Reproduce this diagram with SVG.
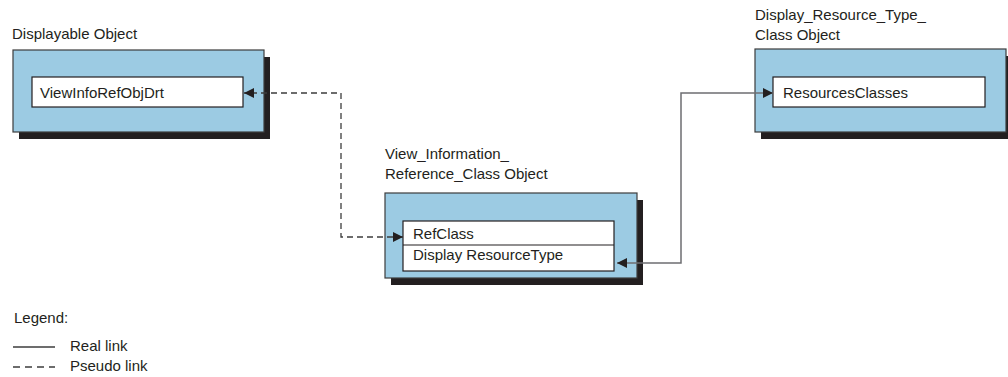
<svg xmlns="http://www.w3.org/2000/svg" width="1008" height="377" viewBox="0 0 1008 377">
<style>
text{font-family:"Liberation Sans",Arial,sans-serif;font-size:15px;fill:#231f20}
.shadow{fill:#231f20}
.outer{fill:#9ccbe3;stroke:#3c3c3c;stroke-width:1.2}
.inner{fill:#fff;stroke:#231f20;stroke-width:1.2}
.real{fill:none;stroke:#6d6e71;stroke-width:1.5}
.pseudo{fill:none;stroke:#3c3c3c;stroke-width:1.3;stroke-dasharray:6 4}
</style>
<defs>
<marker id="ah" viewBox="0 0 10 10" refX="10" refY="5" markerWidth="10" markerHeight="10" markerUnits="userSpaceOnUse" orient="auto-start-reverse">
<path d="M0,0 L10,5 L0,10 z" fill="#231f20"/>
</marker>
</defs>
<g id="displayable">
<text x="12" y="39">Displayable Object</text>
<rect class="shadow" x="19" y="57" width="251" height="82"/>
<rect class="outer" x="13" y="50" width="251" height="82"/>
<rect class="inner" x="32" y="77" width="211" height="30"/>
<text x="40" y="98">ViewInfoRefObjDrt</text>
</g>
<g id="viewinfo">
<text x="385" y="159">View_Information_</text>
<text x="385" y="179">Reference_Class Object</text>
<rect class="shadow" x="391" y="200" width="252" height="85"/>
<rect class="outer" x="385" y="193" width="252" height="85"/>
<rect class="inner" x="403" y="221" width="211" height="50"/>
<line x1="403" y1="245" x2="614" y2="245" stroke="#231f20" stroke-width="1.2"/>
<text x="413" y="239">RefClass</text>
<text x="413" y="260">Display ResourceType</text>
</g>
<g id="displayresource">
<text x="755" y="20">Display_Resource_Type_</text>
<text x="755" y="40">Class Object</text>
<rect class="shadow" x="761" y="56" width="251" height="83"/>
<rect class="outer" x="755" y="49" width="251" height="83"/>
<rect class="inner" x="773" y="77" width="212" height="30"/>
<text x="783" y="98">ResourcesClasses</text>
</g>
<g id="connectors">
<path class="pseudo" d="M403,237 H341 V93 H244" marker-start="url(#ah)" marker-end="url(#ah)"/>
<path class="real" d="M617,263 H681 V93 H773" marker-start="url(#ah)" marker-end="url(#ah)"/>
</g>
<g id="legend">
<text x="14" y="323">Legend:</text>
<line x1="13" y1="347" x2="55" y2="347" stroke="#3c3c3c" stroke-width="1.3"/>
<text x="70" y="351">Real link</text>
<line x1="13" y1="367" x2="55" y2="367" stroke="#3c3c3c" stroke-width="1.3" stroke-dasharray="7 5"/>
<text x="70" y="371">Pseudo link</text>
</g>
</svg>
